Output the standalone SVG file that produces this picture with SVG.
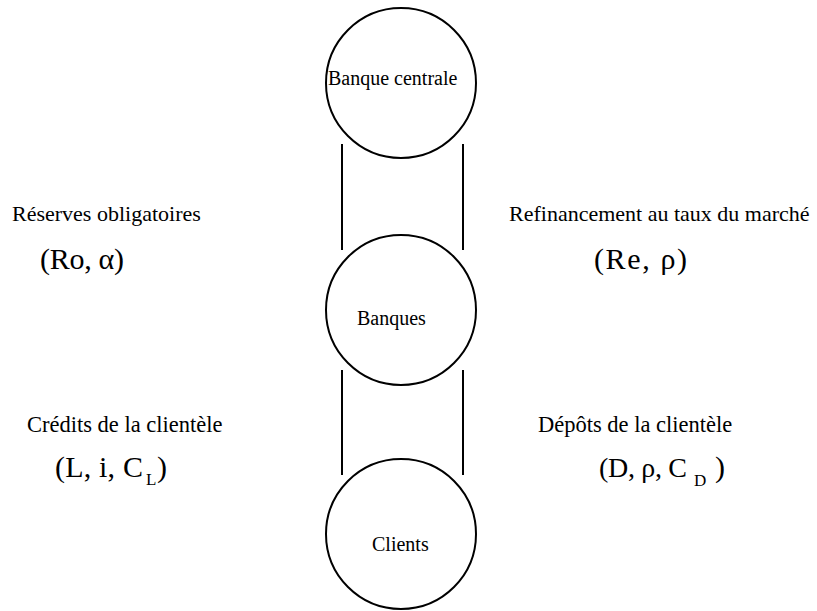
<svg xmlns="http://www.w3.org/2000/svg" width="817" height="611" viewBox="0 0 817 611">
<style>
.node{fill:#fff;stroke:#000;stroke-width:2}
.conn{stroke:#000;stroke-width:2;fill:none}
text{font-family:"Liberation Serif","Times New Roman",serif;fill:#000}
.nt{font-size:20px}
.lab{font-size:22px}
.lab2{font-size:22.5px}
.math{font-size:30px}
.math2{font-size:28px}
.sub{font-size:17px}
</style>
<rect width="817" height="611" fill="#fff"/>
<g id="connectors">
<line class="conn" x1="342" y1="144" x2="342" y2="250"/>
<line class="conn" x1="463" y1="144" x2="463" y2="250"/>
<line class="conn" x1="342" y1="370" x2="342" y2="475"/>
<line class="conn" x1="463" y1="370" x2="463" y2="475"/>
</g>
<g id="banque-centrale">
<circle class="node" cx="401" cy="83" r="75"/>
<text class="nt" x="328" y="85">Banque centrale</text>
</g>
<g id="banques">
<circle class="node" cx="401" cy="310" r="75"/>
<text class="nt" x="357" y="325">Banques</text>
</g>
<g id="clients">
<circle class="node" cx="401" cy="534" r="75"/>
<text class="nt" x="372" y="551">Clients</text>
</g>
<g id="labels">
<text class="lab" x="12" y="221">Réserves obligatoires</text>
<text class="math" x="40" y="269" textLength="84" lengthAdjust="spacing">(Ro, α)</text>
<text class="lab" x="509" y="221">Refinancement au taux du marché</text>
<text class="math" x="594" y="269" textLength="93" lengthAdjust="spacing">(Re, ρ)</text>
<text class="lab2" x="27" y="432">Crédits de la clientèle</text>
<text class="math" x="55" y="477" textLength="88" lengthAdjust="spacing">(L, i, C</text>
<text class="sub" x="146" y="485">L</text>
<text class="math" x="157" y="477">)</text>
<text class="lab2" x="538" y="432">Dépôts de la clientèle</text>
<text class="math2" x="599" y="477" textLength="88" lengthAdjust="spacing">(D, ρ, C</text>
<text class="sub" x="694" y="486">D</text>
<text class="math" x="715" y="477">)</text>
</g>
</svg>
